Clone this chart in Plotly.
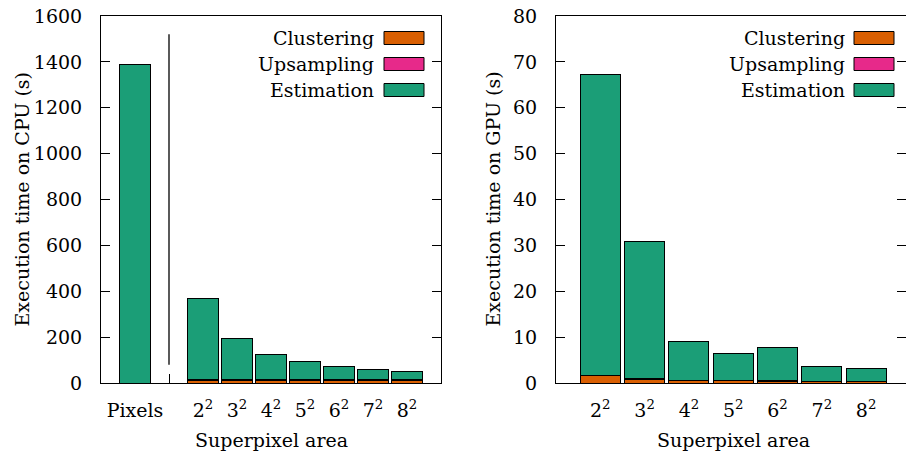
import plotly.graph_objects as go

# ---------------- data ----------------
cpu_categories = ["Pixels", "", "2<sup>2</sup>", "3<sup>2</sup>", "4<sup>2</sup>",
                  "5<sup>2</sup>", "6<sup>2</sup>", "7<sup>2</sup>", "8<sup>2</sup>"]
cpu_clustering = [None, None, 13, 13, 13, 13, 13, 13, 13]
cpu_upsampling = [None, None, 1, 1, 1, 1, 1, 1, 1]
cpu_estimation = [1390, None, 356, 178, 112, 80, 60, 47, 38]

gpu_categories = ["2<sup>2</sup>", "3<sup>2</sup>", "4<sup>2</sup>",
                  "5<sup>2</sup>", "6<sup>2</sup>", "7<sup>2</sup>", "8<sup>2</sup>"]
gpu_clustering = [1.6, 0.87, 0.57, 0.44, 0.40, 0.30, 0.30]
gpu_upsampling = [0.05, 0.05, 0.05, 0.05, 0.05, 0.05, 0.05]
gpu_estimation = [65.55, 29.88, 8.44, 5.96, 7.31, 3.27, 2.92]

series_names = ["Clustering", "Upsampling", "Estimation"]
cpu_yticks = [0, 200, 400, 600, 800, 1000, 1200, 1400, 1600]
gpu_yticks = [0, 10, 20, 30, 40, 50, 60, 70, 80]
separator_y = [80, 1520]

# ---------------- style ----------------
W, H = 906, 455
TOP, BOTTOM = 16, 383
L0, L1 = 101, 441
R0, R1 = 556, 906
colors = ["#d95f02", "#e7298a", "#1b9e77"]
FONT = "DejaVu Serif"
FS = 19

fig = go.Figure()

cpu_x = list(range(len(cpu_categories)))
gpu_x = list(range(len(gpu_categories)))

for name, vals, col in zip(series_names, [cpu_clustering, cpu_upsampling, cpu_estimation], colors):
    fig.add_trace(go.Bar(x=cpu_x, y=vals, name=name, marker=dict(color=col, line=dict(color="black", width=1)),
                         width=0.9, xaxis="x", yaxis="y", showlegend=False))
for name, vals, col in zip(series_names, [gpu_clustering, gpu_upsampling, gpu_estimation], colors):
    fig.add_trace(go.Bar(x=gpu_x, y=vals, name=name, marker=dict(color=col, line=dict(color="black", width=1)),
                         width=0.9, xaxis="x2", yaxis="y2", showlegend=False))

axis_common = dict(showline=True, linecolor="black", linewidth=1, showgrid=False, zeroline=False,
                   tickfont=dict(family=FONT, size=FS, color="black"))

fig.update_layout(
    width=W, height=H, barmode="stack",
    margin=dict(l=0, r=0, t=TOP, b=H - BOTTOM),
    plot_bgcolor="white", paper_bgcolor="white",
    font=dict(family=FONT, size=FS, color="black"),
    xaxis=dict(domain=[L0 / W, L1 / W], range=[-1, 9], tickvals=cpu_x, ticktext=cpu_categories,
               ticks="inside", ticklen=9, tickcolor="black", mirror=True, layer="below traces",
               ticklabelstandoff=10, anchor="y", **axis_common),
    yaxis=dict(domain=[0, 1], range=[0, 1600], tickvals=cpu_yticks, ticks="inside", ticklen=9,
               tickcolor="black", mirror="ticks", ticklabelstandoff=14, anchor="x", **axis_common),
    xaxis2=dict(domain=[R0 / W, R1 / W], range=[-1, 6.9], tickvals=gpu_x, ticktext=gpu_categories,
                ticks="inside", ticklen=9, tickcolor="black", mirror=True, layer="below traces",
                ticklabelstandoff=10, anchor="y2", **axis_common),
    yaxis2=dict(domain=[0, 1], range=[0, 80], tickvals=gpu_yticks, ticks="inside", ticklen=9,
                tickcolor="black", mirror="ticks", ticklabelstandoff=14, anchor="x2", **axis_common),
)

# separator between "Pixels" and superpixel bars
fig.add_shape(type="line", xref="x", yref="y", x0=1, x1=1, y0=separator_y[0], y1=separator_y[1],
              line=dict(color="black", width=1.3))


def px_to_paper_x(px):
    return px / W


def px_to_paper_y(py):
    return (BOTTOM - py) / (BOTTOM - TOP)


# axis titles
for cx, txt in [(21, "Execution time on CPU (s)"), (492, "Execution time on GPU (s)")]:
    fig.add_annotation(x=px_to_paper_x(cx), y=px_to_paper_y((TOP + BOTTOM) / 2), xref="paper", yref="paper",
                       text=txt, textangle=-90, showarrow=False, xanchor="center", yanchor="middle",
                       font=dict(family=FONT, size=FS, color="black"))
for cx, txt in [(271, "Superpixel area"), (733, "Superpixel area")]:
    fig.add_annotation(x=px_to_paper_x(cx), y=px_to_paper_y(440), xref="paper", yref="paper",
                       text=txt, showarrow=False, xanchor="center", yanchor="middle",
                       font=dict(family=FONT, size=FS, color="black"))

# legends (text right, swatch on the right side)
row_y = [38, 64, 90]
for sw_x0, sw_x1, txt_right in [(384, 424, 376), (854, 894, 847)]:
    for name, col, ry in zip(series_names, colors, row_y):
        fig.add_shape(type="rect", xref="paper", yref="paper",
                      x0=px_to_paper_x(sw_x0), x1=px_to_paper_x(sw_x1),
                      y0=px_to_paper_y(ry - 6.5), y1=px_to_paper_y(ry + 6.5),
                      fillcolor=col, line=dict(color="black", width=1))
        fig.add_annotation(x=px_to_paper_x(txt_right), y=px_to_paper_y(ry), xref="paper", yref="paper",
                           text=name, showarrow=False, xanchor="right", yanchor="middle",
                           font=dict(family=FONT, size=FS, color="black"))

fig.write_html("out.html", config={"displayModeBar": False},
               post_script="document.body.style.margin='0px';document.body.style.overflow='hidden';")
